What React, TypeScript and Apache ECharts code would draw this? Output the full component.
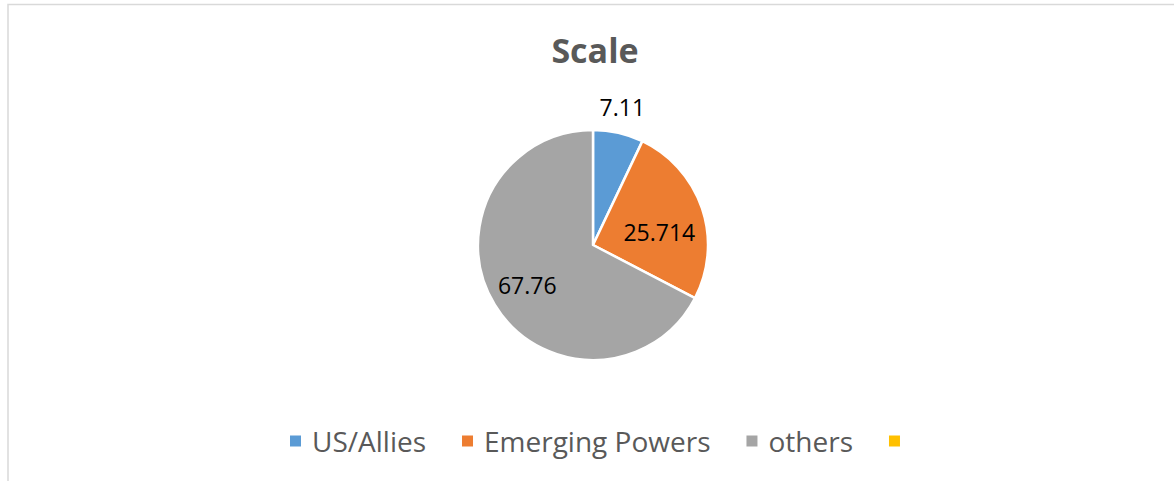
import React, { useEffect, useRef } from "react";
import * as echarts from "echarts";

const categories = ["US/Allies", "Emerging Powers", "others", " "];
const values: (number | string)[] = [7.11, 25.714, 67.76, "-"];
const colors = ["#5B9BD5", "#ED7D31", "#A5A5A5", "#FFC000"];
const labelOffsets = [
  [16, -79],
  [9, 6],
  [-14, 9],
  [0, 0],
];

export default function App() {
  const ref = useRef<HTMLDivElement>(null);
  useEffect(() => {
    if (!ref.current) return;
    const chart = echarts.init(ref.current, null, { renderer: "svg" });
    chart.setOption({
      animation: false,
      backgroundColor: "#fff",
      color: colors,
      title: {
        text: "Scale",
        left: 590,
        top: 28,
        textAlign: "center",
        textStyle: {
          fontFamily: "Open Sans",
          fontWeight: "bold",
          fontSize: 34,
          color: "#595959",
        },
      },
      legend: {
        left: 288,
        top: 427,
        padding: 0,
        icon: "rect",
        itemWidth: 13,
        itemHeight: 13,
        itemGap: 34,
        data: categories,
        textStyle: {
          fontFamily: "Open Sans",
          fontSize: 28,
          lineHeight: 28,
          color: "#595959",
          padding: [0, 0, 0, 5],
        },
      },
      graphic: [
        {
          type: "rect",
          shape: { x: 8, y: 4.5, width: 1180, height: 520 },
          style: { fill: "none", stroke: "#D9D9D9", lineWidth: 1.5 },
          silent: true,
        },
      ],
      series: [
        {
          type: "pie",
          center: [593, 245],
          radius: 115,
          startAngle: 90,
          clockwise: true,
          itemStyle: { borderColor: "#fff", borderWidth: 2.5 },
          label: {
            show: true,
            position: "inside",
            formatter: (p: any) => String(p.value),
            fontFamily: "Open Sans",
            fontSize: 23,
            color: "#000",
          },
          labelLine: { show: false },
          labelLayout: (params: any) => {
            const o = labelOffsets[params.dataIndex] || [0, 0];
            return { dx: o[0], dy: o[1] };
          },
          emphasis: { disabled: true },
          data: categories.map((name, i) => ({ name, value: values[i] })),
        },
      ],
    });
    return () => chart.dispose();
  }, []);
  return (
    <div
      ref={ref}
      style={{ position: "absolute", left: 0, top: 0, width: 1174, height: 481 }}
    />
  );
}
